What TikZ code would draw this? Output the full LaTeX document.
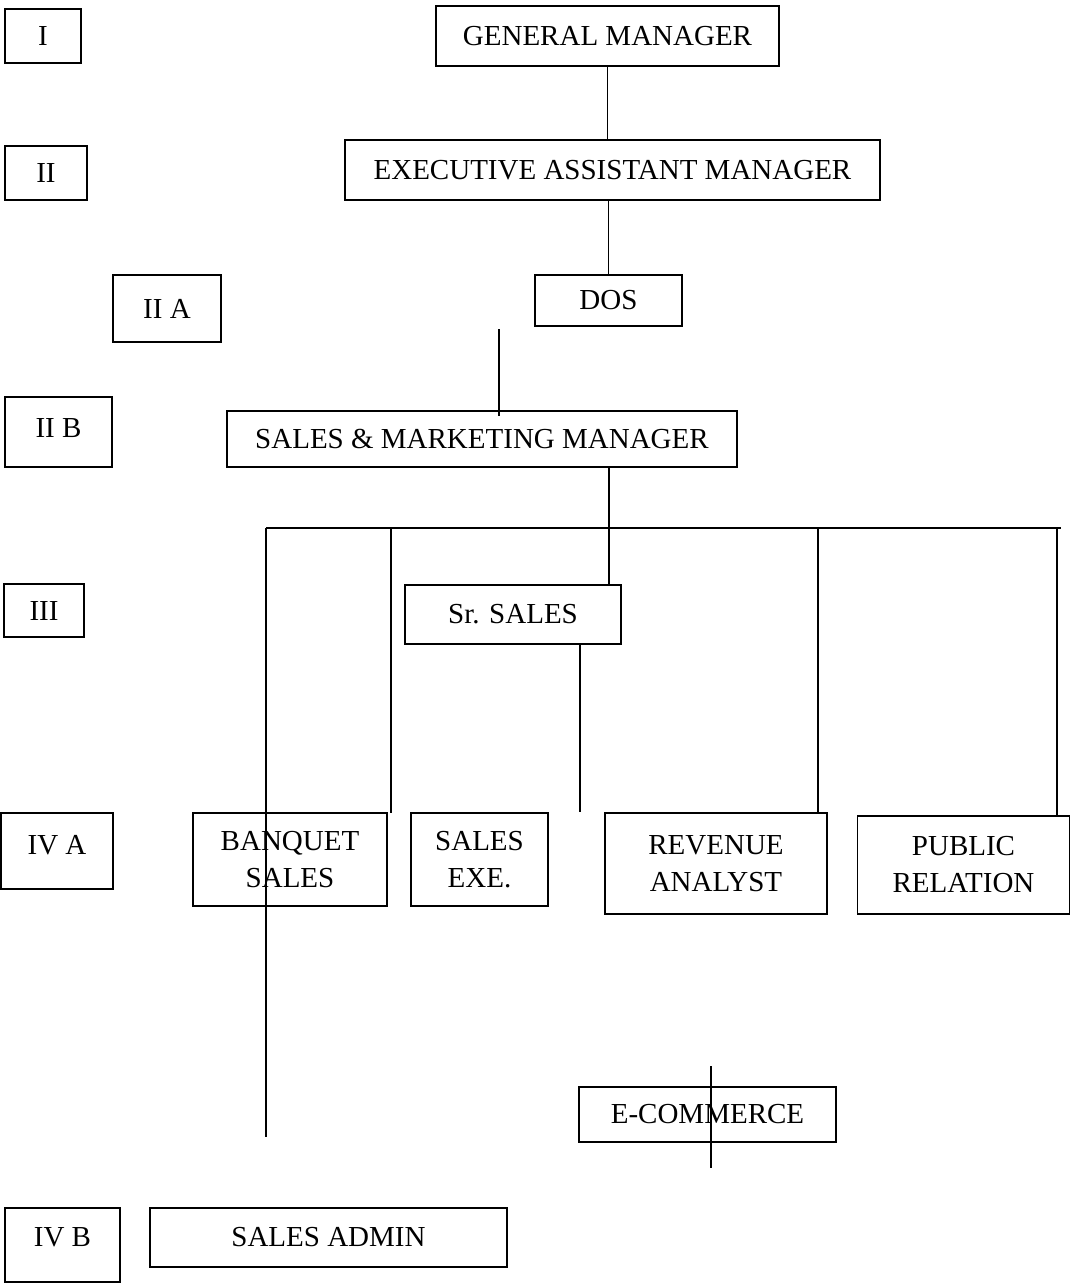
\documentclass[tikz,border=0pt]{standalone}
\usepackage{fontspec}
\setmainfont{Liberation Serif}
\begin{document}
\begin{tikzpicture}[x=1pt,y=1pt,
  bx/.style={draw, line width=1.8pt, inner sep=0pt, align=center, font=\fontsize{29}{37}\selectfont},
  lab/.style={inner sep=0pt, align=center, font=\fontsize{29}{37}\selectfont},
  conn/.style={line width=1.4pt}]
\useasboundingbox (0,0) rectangle (1071,-1283);
% level labels
\node[bx, minimum width=76pt, minimum height=54pt] (lI) at (43,-36) {I};
\node[bx, minimum width=82pt, minimum height=54pt] (lII) at (46,-173) {II};
\node[bx, minimum width=108pt, minimum height=67pt] (lIIA) at (167,-308.5) {II A};
\node[bx, minimum width=107pt, minimum height=70pt, label={[lab, yshift=4pt]center:II B}] (lIIB) at (58.5,-432) {};
\node[bx, minimum width=80pt, minimum height=53pt] (lIII) at (44,-610.5) {III};
\node[bx, minimum width=112pt, minimum height=76pt, label={[lab, yshift=6pt]center:IV A}] (lIVA) at (57,-851) {};
\node[bx, minimum width=115pt, minimum height=74pt, label={[lab, yshift=8pt]center:IV B}] (lIVB) at (62.5,-1245) {};
% positions
\node[bx, minimum width=343pt, minimum height=60pt] (gm) at (607.5,-36) {GENERAL MANAGER};
\node[bx, minimum width=535pt, minimum height=60pt] (eam) at (612.5,-170) {EXECUTIVE ASSISTANT MANAGER};
\node[bx, minimum width=147pt, minimum height=51pt] (dos) at (608.5,-300.5) {DOS};
\node[bx, minimum width=510pt, minimum height=56pt] (smm) at (482,-439) {SALES \& MARKETING MANAGER};
\node[bx, minimum width=216pt, minimum height=59pt] (srs) at (513,-614.5) {Sr. SALES};
\node[bx, minimum width=194pt, minimum height=93pt] (banq) at (290,-859.5) {BANQUET\\SALES};
\node[bx, minimum width=137pt, minimum height=93pt] (sexe) at (479.5,-859.5) {SALES\\EXE.};
\node[bx, minimum width=222pt, minimum height=101pt] (rev) at (716,-863.5) {REVENUE\\ANALYST};
\node[bx, minimum width=212pt, minimum height=98pt] (pr) at (963.5,-865) {PUBLIC\\RELATION};
\node[bx, minimum width=257pt, minimum height=55pt] (ecom) at (707.5,-1114.5) {E-COMMERCE};
\node[bx, minimum width=357pt, minimum height=59pt] (sadm) at (328.5,-1237.5) {SALES ADMIN};
% free-end coordinates
\coordinate (f1) at (499,-329);
\coordinate (f1b) at (499,-416);
\coordinate (busL) at (266,-528);
\coordinate (busR) at (1061,-528);
\coordinate (bqEnd) at (266,-1137);
\coordinate (c391) at (391,-528);
\coordinate (c391b) at (391,-813);
\coordinate (c818) at (818,-528);
\coordinate (c1057) at (1057,-528);
\coordinate (e1) at (711,-1066);
\coordinate (e2) at (711,-1168);
% connectors
\draw[conn] (gm.south) -- (gm.south |- eam.north);
\draw[conn] (dos.north |- eam.south) -- (dos.north);
\draw[conn] (f1) -- (f1b);
\draw[conn] ([xshift=127pt]smm.south) -- ([xshift=127pt]smm.south |- srs.north);
\draw[conn] (busL) -- (busR);
\draw[conn] (busL) -- (bqEnd);
\draw[conn] (c391) -- (c391b);
\draw[conn] ([xshift=67pt]srs.south) -- ([xshift=67pt]srs.south |- rev.north);
\draw[conn] (c818) -- (c818 |- rev.north);
\draw[conn] (c1057) -- (c1057 |- pr.north);
\draw[conn] (e1) -- (e2);
\end{tikzpicture}
\end{document}
